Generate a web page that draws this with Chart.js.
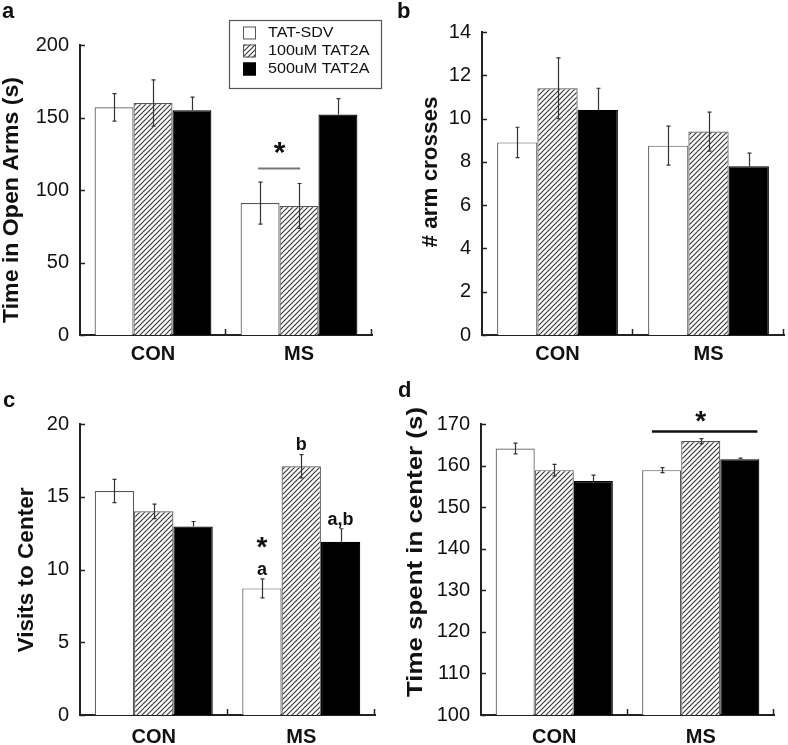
<!DOCTYPE html>
<html>
<head>
<meta charset="utf-8">
<script src="https://cdn.jsdelivr.net/npm/chart.js@4.4.0/dist/chart.umd.min.js"></script>
<style>
  body { margin: 0; background: #fff; }
  #wrap { position: relative; width: 788px; height: 745px; overflow: hidden; background: #fff; }
  #wrap canvas { position: absolute; }
</style>
</head>
<body>
<div id="wrap">
  <canvas id="chartA" width="394" height="372" style="left:0;top:0"></canvas>
  <canvas id="chartB" width="394" height="372" style="left:394px;top:0"></canvas>
  <canvas id="chartC" width="394" height="373" style="left:0;top:372px"></canvas>
  <canvas id="chartD" width="394" height="373" style="left:394px;top:372px"></canvas>
</div>
<script>
// data (rows = treatment, cols = CON / MS)
const groups = ['CON', 'MS'];
const treatments = ['TAT-SDV', '100uM TAT2A', '500uM TAT2A'];

// a: time in open arms (s)
const openArms = [[157, 91], [160, 89], [155, 152]];
const openArmsSem = [[9.5, 14.5], [16, 15.5], [9, 11]];
const openArmsTicks = [0, 50, 100, 150, 200];

// b: # arm crosses
const armCrosses = [[8.9, 8.75], [11.4, 9.4], [10.4, 7.8]];
const armCrossesSem = [[0.7, 0.9], [1.4, 0.9], [1.0, 0.6]];
const armCrossesTicks = [0, 2, 4, 6, 8, 10, 12, 14];

// c: visits to center
const centerVisits = [[15.4, 8.7], [14.0, 17.1], [12.95, 11.9]];
const centerVisitsSem = [[0.8, 0.65], [0.5, 0.8], [0.35, 0.9]];
const centerVisitsTicks = [0, 5, 10, 15, 20];

// d: time spent in center (s)
const centerTime = [[164.1, 158.9], [158.9, 165.9], [156.3, 161.5]];
const centerTimeSem = [[1.3, 0.6], [1.4, 0.6], [1.4, 0.3]];
const centerTimeTicks = [100, 110, 120, 130, 140, 150, 160, 170];

const FONT = "'Liberation Sans', Arial, Helvetica, sans-serif";
const axisColor = '#222';

function hatchPattern(ctx) {
    const s = 5;
    const c = document.createElement('canvas');
    c.width = c.height = s;
    const g = c.getContext('2d');
    g.fillStyle = '#fff';
    g.fillRect(0, 0, s, s);
    g.strokeStyle = '#3a3a3a';
    g.lineWidth = 1.2;
    g.beginPath();
    g.moveTo(0, s); g.lineTo(s, 0);
    g.moveTo(-1, 1); g.lineTo(1, -1);
    g.moveTo(s - 1, s + 1); g.lineTo(s + 1, s - 1);
    g.stroke();
    return ctx.createPattern(c, 'repeat');
}

// error bars (mean +/- sem), black bars only show the upper half
const errorBars = {
    id: 'errorBars',
    afterDatasetsDraw(chart) {
        const { ctx, scales: { y } } = chart;
        ctx.save();
        ctx.lineWidth = 1.2;
        ctx.strokeStyle = '#333';
        chart.data.datasets.forEach((ds, i) => {
            chart.getDatasetMeta(i).data.forEach((bar, j) => {
                const v = ds.data[j], e = ds.sem[j];
                const x = Math.round(bar.x) + 0.5;
                const top = y.getPixelForValue(v + e);
                const bot = i === 2 ? bar.y : y.getPixelForValue(v - e);
                ctx.beginPath();
                ctx.moveTo(x, top); ctx.lineTo(x, bot);
                ctx.moveTo(x - 2, top); ctx.lineTo(x + 2, top);
                if (i !== 2) { ctx.moveTo(x - 2, bot); ctx.lineTo(x + 2, bot); }
                ctx.stroke();
            });
        });
        ctx.restore();
    }
};

// tick marks pointing into the plot
const innerTicks = {
    id: 'innerTicks',
    afterDraw(chart) {
        const { ctx, chartArea: a, scales: { x, y } } = chart;
        ctx.save();
        ctx.strokeStyle = axisColor;
        ctx.lineWidth = 1.5;
        ctx.beginPath();
        y.ticks.forEach(t => {
            const py = Math.round(y.getPixelForValue(t.value)) + 0.5;
            ctx.moveTo(a.left, py); ctx.lineTo(a.left + 5, py);
        });
        const half = (x.getPixelForValue(1) - x.getPixelForValue(0)) / 2;
        x.ticks.forEach((t, k) => {
            const px = Math.round(x.getPixelForValue(k) + half) - 0.5;
            ctx.moveTo(px, a.bottom); ctx.lineTo(px, a.bottom - 6);
        });
        ctx.stroke();
        ctx.restore();
    }
};

// panel letter, axis title, legend, significance marks
const decor = {
    id: 'decor',
    afterDraw(chart, args, o) {
        const { ctx, scales: { y } } = chart;
        ctx.save();
        ctx.fillStyle = '#111';

        ctx.font = `bold 22px ${FONT}`;
        ctx.textAlign = 'left';
        ctx.textBaseline = 'alphabetic';
        ctx.fillText(o.letter, o.letterAt[0], o.letterAt[1]);

        ctx.save();
        ctx.font = `bold 22px ${FONT}`;
        const sx = o.titleLen / ctx.measureText(o.title).width;
        ctx.translate(o.titleAt[0], o.titleAt[1]);
        ctx.rotate(-Math.PI / 2);
        ctx.scale(sx, 1);
        ctx.textAlign = 'center';
        ctx.textBaseline = 'middle';
        ctx.fillText(o.title, 0, 0);
        ctx.restore();

        const barAt = (m) => {
            const bar = chart.getDatasetMeta(m.ds).data[m.idx];
            return bar.x + (m.frac || 0) * bar.width;
        };
        (o.lines || []).forEach(l => {
            const py = Math.round(y.getPixelForValue(l.value)) + 0.5;
            ctx.strokeStyle = l.color;
            ctx.lineWidth = l.width;
            ctx.beginPath();
            ctx.moveTo(barAt(l.from), py);
            ctx.lineTo(barAt(l.to), py);
            ctx.stroke();
        });
        (o.marks || []).forEach(m => {
            ctx.font = `bold ${m.size}px ${FONT}`;
            ctx.textAlign = 'center';
            ctx.textBaseline = 'alphabetic';
            ctx.fillStyle = '#111';
            ctx.fillText(m.text, barAt(m), y.getPixelForValue(m.value));
        });

        if (o.legend) {
            const L = o.legend;
            ctx.strokeStyle = '#555';
            ctx.lineWidth = 1.2;
            ctx.strokeRect(L.box[0] + 0.5, L.box[1] + 0.5, L.box[2], L.box[3]);
            chart.data.datasets.forEach((ds, i) => {
                const cy = L.rows[i];
                ctx.fillStyle = ds.backgroundColor;
                ctx.fillRect(L.iconX, cy - 6.5, 13, 13);
                ctx.strokeStyle = ds.borderColor;
                ctx.lineWidth = 1;
                ctx.strokeRect(L.iconX + 0.5, cy - 6, 12, 12);
                ctx.save();
                ctx.translate(L.textX, cy + 0.5);
                ctx.scale(1.15, 1);
                ctx.fillStyle = '#111';
                ctx.font = `14px ${FONT}`;
                ctx.textAlign = 'left';
                ctx.textBaseline = 'middle';
                ctx.fillText(ds.label, 0, 0);
                ctx.restore();
            });
        }
        ctx.restore();
    }
};

function makeChart(id, cfg) {
    const canvas = document.getElementById(id);
    const ctx = canvas.getContext('2d');
    const fills = ['#ffffff', hatchPattern(ctx), '#000000'];
    const edges = ['#555', '#555', '#000'];
    return new Chart(ctx, {
        type: 'bar',
        data: {
            labels: groups,
            datasets: treatments.map((name, i) => ({
                label: name,
                data: cfg.values[i],
                sem: cfg.sem[i],
                backgroundColor: fills[i],
                borderColor: edges[i],
                borderWidth: 1.2
            }))
        },
        options: {
            responsive: false,
            devicePixelRatio: 1,
            animation: false,
            events: [],
            layout: { padding: { left: 0, top: cfg.area.t, right: canvas.width - cfg.area.r, bottom: 0 } },
            datasets: { bar: { categoryPercentage: 0.8, barPercentage: 1 } },
            scales: {
                x: {
                    grid: { display: false, drawTicks: false },
                    border: { color: axisColor, width: 2 },
                    ticks: { color: '#111', padding: cfg.xPad, font: { family: FONT, size: 20, weight: 'bold' } },
                    afterFit: s => { s.height = canvas.height - cfg.area.b; }
                },
                y: {
                    min: cfg.ticks[0],
                    max: cfg.ticks[cfg.ticks.length - 1],
                    afterBuildTicks: s => { s.ticks = cfg.ticks.map(v => ({ value: v })); },
                    grid: { display: false, drawTicks: false },
                    border: { color: axisColor, width: 2 },
                    ticks: { color: '#111', padding: 11, font: { family: FONT, size: 20 } },
                    afterFit: s => { s.width = cfg.area.l; }
                }
            },
            plugins: {
                legend: { display: false },
                tooltip: { enabled: false },
                decor: cfg.decor
            }
        },
        plugins: [errorBars, innerTicks, decor]
    });
}

window.onload = () => {
    makeChart('chartA', {
        values: openArms, sem: openArmsSem, ticks: openArmsTicks,
        area: { l: 80, t: 45, r: 372, b: 335 }, xPad: 7,
        decor: {
            letter: 'a', letterAt: [2, 18],
            title: 'Time in Open Arms (s)', titleAt: [12, 200], titleLen: 246,
            lines: [{ from: { ds: 0, idx: 1, frac: -0.05 }, to: { ds: 1, idx: 1, frac: 0.03 }, value: 115, color: '#777', width: 2 }],
            marks: [{ ds: 0, idx: 1, frac: 0.5, value: 119, text: '*', size: 30 }],
            legend: { box: [229, 20, 152, 68], iconX: 243, textX: 268, rows: [33, 51, 69] }
        }
    });
    makeChart('chartB', {
        values: armCrosses, sem: armCrossesSem, ticks: armCrossesTicks,
        area: { l: 88, t: 32, r: 390, b: 335 }, xPad: 7,
        decor: {
            letter: 'b', letterAt: [3, 18],
            title: '# arm crosses', titleAt: [36.5, 172], titleLen: 151
        }
    });
    makeChart('chartC', {
        values: centerVisits, sem: centerVisitsSem, ticks: centerVisitsTicks,
        area: { l: 80, t: 52, r: 375, b: 343 }, xPad: 10,
        decor: {
            letter: 'c', letterAt: [3, 35],
            title: 'Visits to Center', titleAt: [27, 198], titleLen: 165,
            marks: [
                { ds: 0, idx: 1, value: 10.9, text: '*', size: 28 },
                { ds: 0, idx: 1, value: 9.6, text: 'a', size: 18 },
                { ds: 1, idx: 1, value: 18.2, text: 'b', size: 18 },
                { ds: 2, idx: 1, value: 13.05, text: 'a,b', size: 18 }
            ]
        }
    });
    makeChart('chartD', {
        values: centerTime, sem: centerTimeSem, ticks: centerTimeTicks,
        area: { l: 87, t: 52, r: 380, b: 343 }, xPad: 10,
        decor: {
            letter: 'd', letterAt: [4, 25],
            title: 'Time spent in center (s)', titleAt: [21.5, 180], titleLen: 290,
            lines: [{ from: { ds: 0, idx: 1, frac: -0.25 }, to: { ds: 2, idx: 1, frac: 0.45 }, value: 168.3, color: '#111', width: 2.5 }],
            marks: [{ ds: 1, idx: 1, value: 168.6, text: '*', size: 28 }]
        }
    });
};
</script>
</body>
</html>
